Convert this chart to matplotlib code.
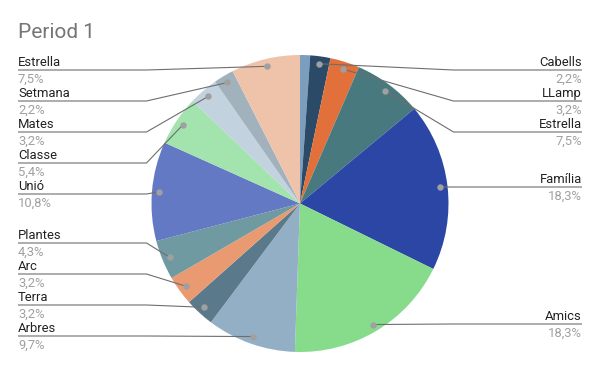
import matplotlib
matplotlib.use('Agg')
import matplotlib.pyplot as plt
import numpy as np

title = "Period 1"
categories = ["", "Cabells", "LLamp", "Estrella", "Família", "Amics", "Arbres",
              "Terra", "Arc", "Plantes", "Unió", "Classe", "Mates", "Setmana", "Estrella"]
values = [1.1, 2.2, 3.2, 7.5, 18.3, 18.3, 9.7, 3.2, 3.2, 4.3, 10.8, 5.4, 3.2, 2.2, 7.5]
colors = ["#7b9ebf", "#2a4a68", "#e2703a", "#47797f", "#2c46a6", "#87dc8c", "#93afc6",
          "#5a7a8b", "#ea9a70", "#6f9aa2", "#6479c4", "#a2e3ae", "#c2d2de", "#a1b2bd", "#efc3aa"]

# label line rows (pixels from top) for each labelled slice
label_rows = {1: 70, 2: 101, 3: 132, 4: 187, 5: 324, 6: 336, 7: 305, 8: 274,
              9: 243, 10: 194, 11: 163, 12: 132, 13: 101, 14: 70}

W, H = 600, 371
plt.rcParams['font.family'] = ['Roboto', 'DejaVu Sans']
fig = plt.figure(figsize=(W / 100, H / 100), dpi=100)
ax = fig.add_axes([0, 0, 1, 1])
cx, cy, r = 300, H - 203.5, 148.5
wedges, _ = ax.pie(values, colors=colors, startangle=90, counterclock=False,
                   center=(cx, cy), radius=r, wedgeprops=dict(linewidth=0))
ax.set_xlim(0, W)
ax.set_ylim(0, H)
ax.set_aspect('equal')
ax.axis('off')

for i, w in enumerate(wedges):
    if i not in label_rows:
        continue
    ang = np.deg2rad((w.theta1 + w.theta2) / 2)
    px = cx + 0.95 * r * np.cos(ang)
    py = cy + 0.95 * r * np.sin(ang)
    ly = H - label_rows[i]
    right = np.cos(ang) > 0
    if right:
        elbow_x, end_x, ha = cx + r + 5, 582, 'right'
    else:
        elbow_x, end_x, ha = cx - r - 5, 18, 'left'
    ax.plot([px, elbow_x, end_x], [py, ly, ly], color='#6e6e6e', lw=0.8,
            solid_capstyle='butt', zorder=3)
    ax.plot([px], [py], marker='o', ms=3.6, color='#a0a0a0', mec='#a0a0a0', zorder=4)
    ax.text(end_x, ly + 4, categories[i], ha=ha, va='baseline', fontsize=9.4,
            color='#222222')
    pct = f"{values[i]:.1f}".replace('.', ',') + '%'
    ax.text(end_x, ly - 13, pct, ha=ha, va='baseline', fontsize=9.4, color='#a0a0a0')

ax.text(18, H - 38, title, ha='left', va='baseline', fontsize=15, color='#757575')

fig.savefig('out.png', dpi=100)
